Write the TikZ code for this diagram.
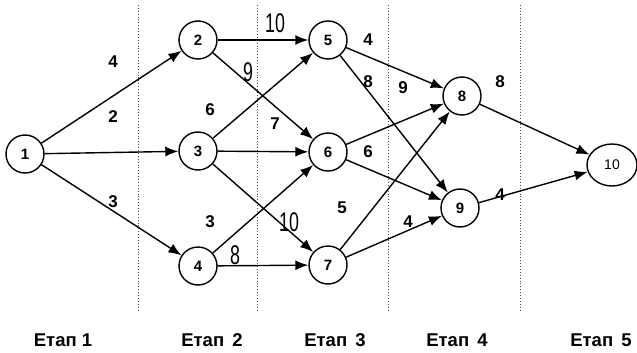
\documentclass[tikz,border=0pt]{standalone}
\usepackage{fontspec}
\setmainfont{Liberation Sans}
\newfontfamily\narrowfont[FakeStretch=0.66]{Liberation Sans}
\usetikzlibrary{arrows.meta,shapes.geometric}
\begin{document}
\begin{tikzpicture}[x=1pt,y=-1pt,
  vert/.style={circle,draw,line width=1.4pt,minimum size=38pt,inner sep=0pt,font=\bfseries\fontsize{15}{15}\selectfont},
  edge/.style={line width=1.4pt,-{Latex[length=13pt,width=10pt]}},
  wt/.style={font=\bfseries\fontsize{17}{17}\selectfont},
  wtn/.style={font=\narrowfont\fontsize{27}{27}\selectfont},
  stagesep/.style={dotted,line width=0.9pt,gray!60!black},
  stagelbl/.style={font=\bfseries\fontsize{18.5}{18.5}\selectfont}]
\useasboundingbox (0,0) rectangle (637,353);
\node[vert] (n1) at (25,154) {1};
\node[vert] (n2) at (198,40) {2};
\node[vert] (n3) at (198,151) {3};
\node[vert] (n4) at (198,266) {4};
\node[vert] (n5) at (328,40) {5};
\node[vert] (n6) at (328,152) {6};
\node[vert] (n7) at (328,265) {7};
\node[vert] (n8) at (462,96) {8};
\node[vert] (n9) at (460,208) {9};
\node[ellipse,draw,line width=1.4pt,minimum width=50pt,minimum height=42pt,inner sep=0pt,font=\fontsize{14}{14}\selectfont] (n10) at (612,165) {10};
% stage separators
\coordinate (s1t) at (138,5); \coordinate (s1b) at (138,310);
\coordinate (s2t) at (257,5); \coordinate (s2b) at (257,310);
\coordinate (s3t) at (388,5); \coordinate (s3b) at (388,310);
\coordinate (s4t) at (520,5); \coordinate (s4b) at (520,310);
\draw[stagesep] (s1t) -- (s1b);
\draw[stagesep] (s2t) -- (s2b);
\draw[stagesep] (s3t) -- (s3b);
\draw[stagesep] (s4t) -- (s4b);
% edges
\draw[edge] (n1) -- (n2);
\draw[edge] (n1) -- (n3);
\draw[edge] (n1) -- (n4);
\draw[edge] (n2) -- (n5);
\draw[edge] (n2) -- (n6);
\draw[edge] (n3) -- (n5);
\draw[edge] (n3) -- (n6);
\draw[edge] (n3) -- (n7);
\draw[edge] (n4) -- (n6);
\draw[edge] (n4) -- (n7);
\draw[edge] (n5) -- (n8);
\draw[edge] (n5) -- (n9);
\draw[edge] (n6) -- (n8);
\draw[edge] (n6) -- (n9);
\draw[edge] (n7) -- (n8);
\draw[edge] (n7) -- (n9);
\draw[edge] (n8) -- (n10);
\draw[edge] (n9) -- (n10);
% weights
\node[wt] (w12) at (113,62) {4};
\node[wt] (w13) at (113,117) {2};
\node[wt] (w14) at (113,202) {3};
\node[wtn] (w25) at (275,23) {10};
\node[wtn] (w26) at (248,72) {9};
\node[wt] (w35) at (210,110) {6};
\node[wt] (w36) at (275,124) {7};
\node[wt] (w46) at (210,222) {3};
\node[wtn] (w37) at (289,222) {10};
\node[wtn] (w47) at (235,255) {8};
\node[wt] (w58) at (368,40) {4};
\node[wt] (w59) at (368,82) {8};
\node[wt] (w68) at (403,88) {9};
\node[wt] (w69) at (368,152) {6};
\node[wt] (w810) at (500,82) {8};
\node[wt] (w78) at (342,208) {5};
\node[wt] (w79) at (408,222) {4};
\node[wt] (w910) at (500,195) {4};
% stage labels
\node[stagelbl] (e1) at (63,340) {Етап 1};
\node[stagelbl] (e2) at (212,340) {Етап\ \,2};
\node[stagelbl] (e3) at (335,340) {Етап\ \,3};
\node[stagelbl] (e4) at (457,340) {Етап\ \,4};
\node[stagelbl] (e5) at (601,340) {Етап\ \,5};
\end{tikzpicture}
\end{document}
